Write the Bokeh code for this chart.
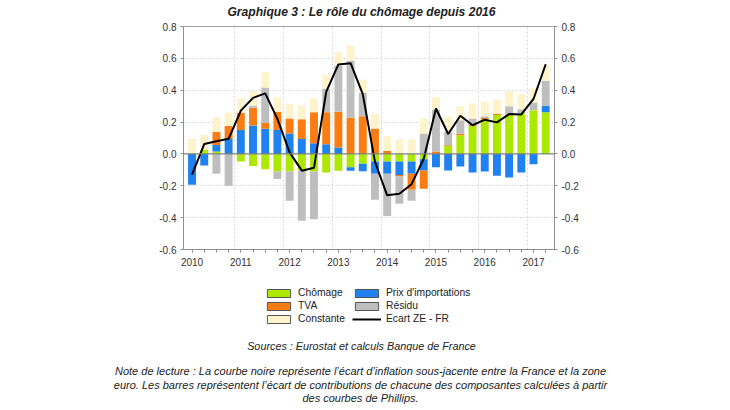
import numpy as np
from bokeh.plotting import figure
from bokeh.layouts import column, row
from bokeh.models import (ColumnDataSource, FixedTicker, Span, Legend,
                          LegendItem, NumeralTickFormatter, LinearAxis, Range1d)
from bokeh.core.properties import value
from bokeh.embed import file_html
from bokeh.resources import INLINE

# ---------------- data ----------------
year_labels = ["2010", "2011", "2012", "2013", "2014", "2015", "2016", "2017"]
quarters = list(range(30))  # 2010Q1 .. 2017Q2

chomage = [0.0, 0.025, 0.015, 0.0, -0.048, -0.075, -0.096, -0.11,
           -0.11, -0.104, -0.11, -0.117, -0.106, -0.083, -0.062, -0.048,
           -0.048, -0.048, -0.048, -0.033, 0.0, 0.05, 0.117, 0.175,
           0.217, 0.244, 0.248, 0.254, 0.275, 0.262]
prix_import = [-0.194, -0.073, 0.041, 0.094, 0.15, 0.179, 0.158, 0.15,
               0.129, 0.094, 0.067, 0.06, 0.04, -0.023, -0.047, -0.077,
               -0.077, -0.085, -0.077, -0.071, -0.083, -0.104, -0.079, -0.117,
               -0.11, -0.137, -0.148, -0.117, -0.065, 0.04]
tva = [0.0, 0.0, 0.084, 0.081, 0.108, 0.111, 0.036, 0.115,
       0.094, 0.123, 0.195, 0.202, 0.225, 0.227, 0.237, 0.16,
       0.019, -0.009, -0.10, -0.115, 0.015, 0.005, 0.009, 0.008,
       0.008, 0.007, 0.0, 0.0, 0.0, 0.0]
residu = [0.0, 0.0, -0.125, -0.20, 0.0, 0.012, 0.223, -0.048,
          -0.184, -0.315, -0.30, 0.147, 0.287, 0.358, 0.145, -0.162,
          -0.265, -0.17, -0.069, 0.129, 0.264, 0.085, 0.085, 0.04,
          0.012, 0.0, 0.052, 0.027, 0.048, 0.158]
constante = [0.094, 0.094, 0.091, 0.085, 0.092, 0.094, 0.095, 0.089,
             0.09, 0.089, 0.086, 0.09, 0.088, 0.095, 0.084, 0.09,
             0.094, 0.092, 0.092, 0.094, 0.079, 0.093, 0.089, 0.094,
             0.09, 0.093, 0.094, 0.094, 0.087, 0.093]
ecart = [-0.13, 0.062, 0.08, 0.095, 0.272, 0.352, 0.38, 0.22,
         0.01, -0.105, -0.087, 0.39, 0.562, 0.57, 0.375, -0.05,
         -0.26, -0.25, -0.19, -0.03, 0.285, 0.125, 0.24, 0.18,
         0.215, 0.198, 0.25, 0.248, 0.345, 0.563]

series_names = ["Chômage", "Prix d'importations", "TVA", "Résidu", "Constante"]
series_values = [chomage, prix_import, tva, residu, constante]
series_colors = ["#ADE800", "#1F82F0", "#FA7D14", "#BEBEBE", "#FFF3CC"]
line_name = "Ecart ZE - FR"

title_text = "Graphique 3 : Le rôle du chômage depuis 2016"
source_text = "Sources : Eurostat et calculs Banque de France"
note_lines = ["Note de lecture : La courbe noire représente l\u2019écart d\u2019inflation sous-jacente entre la France et la zone",
              "euro. Les barres représentent l\u2019écart de contributions de chacune des composantes calculées à partir",
              "des courbes de Phillips."]

F = "Liberation Sans"
W = 730

# ---------------- header (title) ----------------
HH = 19
head = figure(width=W, height=HH, output_backend="svg", toolbar_location=None,
              x_range=Range1d(0, W), y_range=Range1d(HH, 0),
              x_axis_type=None, y_axis_type=None, min_border=0,
              outline_line_color=None, background_fill_color="white",
              border_fill_color="white")
head.text(x=[361], y=[11], text=[title_text], text_font=value(F),
          text_font_size="12.1px", text_font_style="bold italic",
          text_align="center", text_baseline="middle", text_color="#222222")

# ---------------- chart ----------------
ML, MR, MT, MB = 183, 176, 7, 30
FW, FH = 371, 223
p = figure(width=W, height=MT + FH + MB, output_backend="svg",
           toolbar_location=None,
           x_range=Range1d(-0.7, 29.72), y_range=Range1d(-0.6, 0.8),
           min_border_left=ML, min_border_right=MR, min_border_top=MT,
           min_border_bottom=MB, background_fill_color="white",
           border_fill_color="white", outline_line_color="#a0a0a0")

pos_base = np.zeros(len(quarters))
neg_base = np.zeros(len(quarters))
bar_w = 0.65
for name, vals, col in zip(series_names, series_values, series_colors):
    v = np.array(vals, dtype=float)
    bottoms = np.where(v >= 0, pos_base, neg_base)
    tops = bottoms + v
    pos_base = np.where(v >= 0, tops, pos_base)
    neg_base = np.where(v < 0, tops, neg_base)
    src = ColumnDataSource(dict(x=quarters, bottom=bottoms, top=tops))
    p.vbar(x="x", bottom="bottom", top="top", width=bar_w, source=src,
           fill_color=col, line_color=None)

p.line(quarters, ecart, line_color="black", line_width=2)
p.add_layout(Span(location=0, dimension="width", line_color="#808080",
                  line_width=1.2))

ticks_y = [-0.6, -0.4, -0.2, 0.0, 0.2, 0.4, 0.6, 0.8]
p.yaxis.ticker = FixedTicker(ticks=ticks_y)
p.add_layout(LinearAxis(ticker=FixedTicker(ticks=ticks_y)), "right")

year_ticks = [4 * k for k in range(len(year_labels))]
p.xaxis.ticker = FixedTicker(ticks=year_ticks, minor_ticks=quarters)
p.xaxis.major_label_overrides = {t: lab for t, lab in zip(year_ticks, year_labels)}

for ax in p.yaxis:
    ax.formatter = NumeralTickFormatter(format="0.0")
    ax.minor_tick_line_color = None
for ax in list(p.xaxis) + list(p.yaxis):
    ax.axis_line_color = "#909090"
    ax.major_tick_line_color = "#909090"
    ax.major_tick_out = 3
    ax.major_tick_in = 0
    ax.minor_tick_out = 3
    ax.minor_tick_in = 0
    ax.major_label_text_font = F
    ax.major_label_text_font_size = "10px"
    ax.major_label_text_color = "#333333"
    ax.major_label_standoff = 4
p.xaxis.minor_tick_line_color = "#909090"
p.xaxis.major_label_standoff = 5

p.xgrid.ticker = FixedTicker(ticks=[3.5 + 4 * k for k in range(7)])
p.ygrid.ticker = FixedTicker(ticks=[-0.6, -0.4, -0.2, 0.2, 0.4, 0.6])
for g in (p.xgrid, p.ygrid):
    g.grid_line_color = "#d8d8d8"
    g.grid_line_dash = "2 2"

# ---------------- footer (legend, sources, note) ----------------
FOOT_H = 129
foot_top = HH + MT + FH + MB  # page y of footer top
foot = figure(width=W, height=FOOT_H, output_backend="svg", toolbar_location=None,
              x_range=Range1d(0, W), y_range=Range1d(FOOT_H, 0),
              x_axis_type=None, y_axis_type=None, min_border=0,
              outline_line_color=None, background_fill_color="white",
              border_fill_color="white")

items = []
for name, col in zip(series_names, series_colors):
    r = foot.vbar(x=[50], bottom=[50], top=[60], width=10,
                  fill_color=col, line_color="#555555", line_width=1)
    r.visible = False
    items.append(LegendItem(label=name, renderers=[r]))
lr = foot.line(x=[40, 60], y=[50, 50], line_color="black", line_width=2)
lr.visible = False
items.append(LegendItem(label=line_name, renderers=[lr]))

legend = Legend(items=items, orientation="horizontal", ncols=2,
                location=(264, 83.7),
                padding=0, margin=0, spacing=2,
                glyph_width=29, glyph_height=10, label_width=52,
                label_height=10, label_standoff=5,
                label_text_font=F, label_text_font_size="10.3px",
                label_text_color="#222222",
                inactive_fill_alpha=0.0,
                border_line_color=None, background_fill_alpha=0)
foot.add_layout(legend, "center")

foot.text(x=[361], y=[345 - foot_top], text=[source_text], text_font=value(F),
          text_font_size="10.8px", text_font_style="italic",
          text_align="center", text_baseline="middle", text_color="#222222")
foot.text(x=[360, 360, 360], y=[370 - foot_top, 384 - foot_top, 397.5 - foot_top],
          text=note_lines, text_font=value(F), text_font_size="11px",
          text_font_style="italic", text_align="center",
          text_baseline="middle", text_color="#222222")

layout = column(row(head), row(p), row(foot), spacing=0)
open("out.html", "w").write(file_html(layout, INLINE))
